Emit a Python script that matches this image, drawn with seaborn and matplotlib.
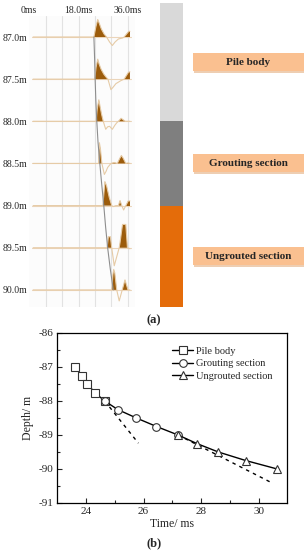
import numpy as np
import pandas as pd
import matplotlib
matplotlib.use("Agg")
import matplotlib.pyplot as plt
import seaborn as sns

# ---------------- data ----------------
# panel (b): first-arrival time vs depth
pile_t = [23.6, 23.85, 24.05, 24.3, 24.65]
pile_d = [-87.0, -87.25, -87.5, -87.75, -88.0]
grout_t = [24.65, 25.1, 25.75, 26.45, 27.2]
grout_d = [-88.0, -88.25, -88.5, -88.75, -89.0]
ungr_t = [27.2, 27.85, 28.6, 29.55, 30.65]
ungr_d = [-89.0, -89.25, -89.5, -89.75, -90.0]
tan1_t = [24.65, 25.82]
tan1_d = [-88.0, -89.24]
tan2_t = [27.2, 30.4]
tan2_d = [-89.0, -90.38]

# panel (a): waveform traces (time ms, relative amplitude)
trace_depths = [87.0, 87.5, 88.0, 88.5, 89.0, 89.5, 90.0]
wave_870 = [(1.5, 0), (23.6, 0), (24.3, 10), (25.0, 17.5), (25.5, 14), (26.3, 8), (27.3, 3),
            (28.2, 0), (29.3, -5), (30.3, -8.5), (31.3, -5), (32.5, -2), (34.0, -1),
            (34.6, 0), (36.3, 5.7), (36.7, 5.7)]
wave_875 = [(1.5, 0), (23.9, 0), (24.4, 12), (25.0, 20), (25.5, 15), (26.2, 10), (27.2, 5),
            (28.2, 1.5), (28.7, 0), (29.8, -10.5), (30.6, -8), (31.6, -4.5), (33.4, -1.5),
            (34.6, 0), (36.2, 7), (36.7, 7.3)]
wave_880 = [(1.5, 0), (24.4, 0), (24.8, 12), (25.4, 21.5), (25.9, 14), (26.4, 7), (27.0, 0),
            (27.9, -8), (28.6, -5.5), (29.3, -5), (30.3, -8), (31.2, -4), (31.9, -1.5),
            (32.5, 0), (33.5, 3), (34.5, 1), (35.0, 0), (36.7, 0)]
wave_885 = [(1.5, 0), (25.3, 0), (25.6, 20.7), (26.0, 14), (26.5, 0), (27.4, -11), (28.0, -8),
            (28.6, -4), (29.8, 0), (31.0, 1), (32.1, 0), (33.0, 5), (33.6, 8), (34.3, 5),
            (35.2, 0), (36.0, 0.5), (36.7, 0)]
wave_890 = [(1.5, 0), (26.85, 0), (27.6, 24), (28.2, 20), (29.2, 8), (30.1, 0), (30.6, -1),
            (31.6, 0), (32.5, 0), (33.1, 5), (33.75, 0), (34.4, -4.4), (35.2, 0),
            (36.1, 4.7), (36.7, 4.7)]
wave_895 = [(1.5, 0), (28.4, 0), (28.85, 11), (29.6, 11), (30.07, 0), (31.0, -18), (32.8, 0),
            (33.1, 5), (34.0, 23.3), (35.2, 23.3), (35.8, 0), (36.7, -1)]
wave_900 = [(1.5, 0), (30.1, 0), (30.5, 15), (30.8, 20.5), (31.2, 17), (31.9, 0),
            (32.8, -11), (33.9, 0), (34.9, 10), (36.0, 0), (36.7, 0)]
waves = [wave_870, wave_875, wave_880, wave_885, wave_890, wave_895, wave_900]

# sections
sections = ["Pile body", "Grouting section", "Ungrouted section"]
section_top = [86.6, 88.0, 89.0]
section_bot = [88.0, 89.0, 90.2]
section_colors = ["#D9D9D9", "#7F7F7F", "#E46C0A"]

# ---------------- style ----------------
sns.set_style("ticks")
plt.rcParams["font.family"] = ["Liberation Serif", "DejaVu Serif"]
plt.rcParams["axes.unicode_minus"] = False

W, H = 306, 550
fig = plt.figure(figsize=(W / 100, H / 100), dpi=100)


def rect(l, t, r, b):
    return [l / W, 1 - b / H, (r - l) / W, (b - t) / H]


# pixel mapping of panel (a)
X0, PXMS = 29.0, 2.75
Y87, PXM = 37.0, 84.3


def dep(ypx):
    return 87.0 + (ypx - Y87) / PXM


# ---------------- panel (a) traces ----------------
axa = fig.add_axes(rect(X0, 16, 135, 307))
axa.set_facecolor("#FCFCFC")
axa.set_xlim(0, (135 - X0) / PXMS)
axa.set_ylim(dep(307), dep(16))
for s in axa.spines.values():
    s.set_visible(False)
for g in [6, 12, 18, 24, 30, 36]:
    axa.axvline(g, color="#E2E2E2", lw=0.8, zorder=0)

scale = 1.0 / PXM
for d, w in zip(trace_depths, waves):
    t = np.array([p[0] for p in w])
    a = np.array([p[1] for p in w])
    y = d - a * scale
    axa.plot([1.0, 37.0], [d, d], color="#EBD5BA", lw=0.8, zorder=1)
    axa.fill_between(t, d, y, where=a > 0, interpolate=True, color="#9C5C0C",
                     lw=0, zorder=2)
    axa.plot(t, y, color="#E6CBA6", lw=0.8, zorder=3)

arr_t = pile_t + grout_t[1:] + ungr_t[1:]
arr_d = [-v for v in pile_d + grout_d[1:] + ungr_d[1:]]
sns.lineplot(x=arr_t, y=arr_d, ax=axa, color="#8E8E8E", lw=0.8, sort=False,
             zorder=4, legend=False)
axa.set_ylim(dep(307), dep(16))

axa.xaxis.tick_top()
axa.set_xticks([0, 18, 36])
axa.set_xticklabels(["0ms", "18.0ms", "36.0ms"])
axa.set_yticks(trace_depths)
axa.set_yticklabels([f"{v:.1f}m" for v in trace_depths])
axa.tick_params(axis="both", length=0, labelsize=7, pad=1)
axa.set_xlabel("")
axa.set_ylabel("")

# ---------------- panel (a) sections ----------------
axs = fig.add_axes(rect(160, 0, 304, 320))
axs.set_xlim(0, 144)
axs.set_ylim(dep(320), dep(0))
axs.axis("off")
axs.bar([11.5] * 3, [b - t for t, b in zip(section_top, section_bot)],
        bottom=section_top, width=23, color=section_colors, lw=0)
centers = [(t + b) / 2 for t, b in zip(section_top, section_bot)]
box_h = 18 / PXM
axs.barh([c + 1.5 / PXM for c in centers], [111] * 3, left=34, height=box_h,
         color="#E3AE80", lw=0, alpha=0.6)
axs.barh(centers, [111] * 3, left=33, height=box_h, color="#FAC090", lw=0)
for c, lab in zip(centers, sections):
    axs.text(33 + 55.5, c, lab, ha="center", va="center", fontsize=8,
             fontweight="bold")

fig.text(154 / W, 1 - 320 / H, "(a)", ha="center", va="center", fontsize=9,
         fontweight="bold")

# ---------------- panel (b) ----------------
axb = fig.add_axes(rect(57.3, 333, 287.3, 503))
mk = dict(color="black", lw=1.0, markersize=5.5, markerfacecolor="white",
          markeredgecolor="#333333", markeredgewidth=0.8)
sns.lineplot(x=tan1_t, y=tan1_d, ax=axb, color="black", lw=1.0,
             dashes=False, linestyle=(0, (2.5, 3)), sort=False, legend=False)
sns.lineplot(x=tan2_t, y=tan2_d, ax=axb, color="black", lw=1.0,
             dashes=False, linestyle=(0, (2.5, 3)), sort=False, legend=False)
sns.lineplot(x=pile_t, y=pile_d, ax=axb, marker="s", label="Pile body", sort=False, **mk)
sns.lineplot(x=grout_t, y=grout_d, ax=axb, marker="o", label="Grouting section",
             sort=False, **mk)
sns.lineplot(x=ungr_t, y=ungr_d, ax=axb, marker="^", label="Ungrouted section",
             sort=False, **mk)

axb.set_xlim(23, 31)
axb.set_ylim(-91, -86)
axb.set_xticks([24, 26, 28, 30])
axb.set_xticks([25, 27, 29], minor=True)
axb.set_yticks([-91, -90, -89, -88, -87, -86])
axb.set_yticks(np.arange(-90.5, -86, 1.0), minor=True)
axb.tick_params(axis="both", which="major", direction="in", length=3.5, width=0.8,
                labelsize=8, pad=3)
axb.tick_params(axis="both", which="minor", direction="in", length=2, width=0.8)
for s in axb.spines.values():
    s.set_linewidth(0.9)
    s.set_color("black")
axb.set_xlabel("Time/ ms", fontsize=8.5, labelpad=1)
axb.set_ylabel("Depth/ m", fontsize=8.5, labelpad=3)
leg = axb.legend(loc="upper right", frameon=False, fontsize=7.5, handlelength=2.0,
                 handletextpad=0.3, labelspacing=0.3, borderaxespad=0.0,
                 bbox_to_anchor=(0.955, 0.945))

fig.text(154 / W, 1 - 543 / H, "(b)", ha="center", va="center", fontsize=9,
         fontweight="bold")

fig.savefig("out.png", dpi=100)
